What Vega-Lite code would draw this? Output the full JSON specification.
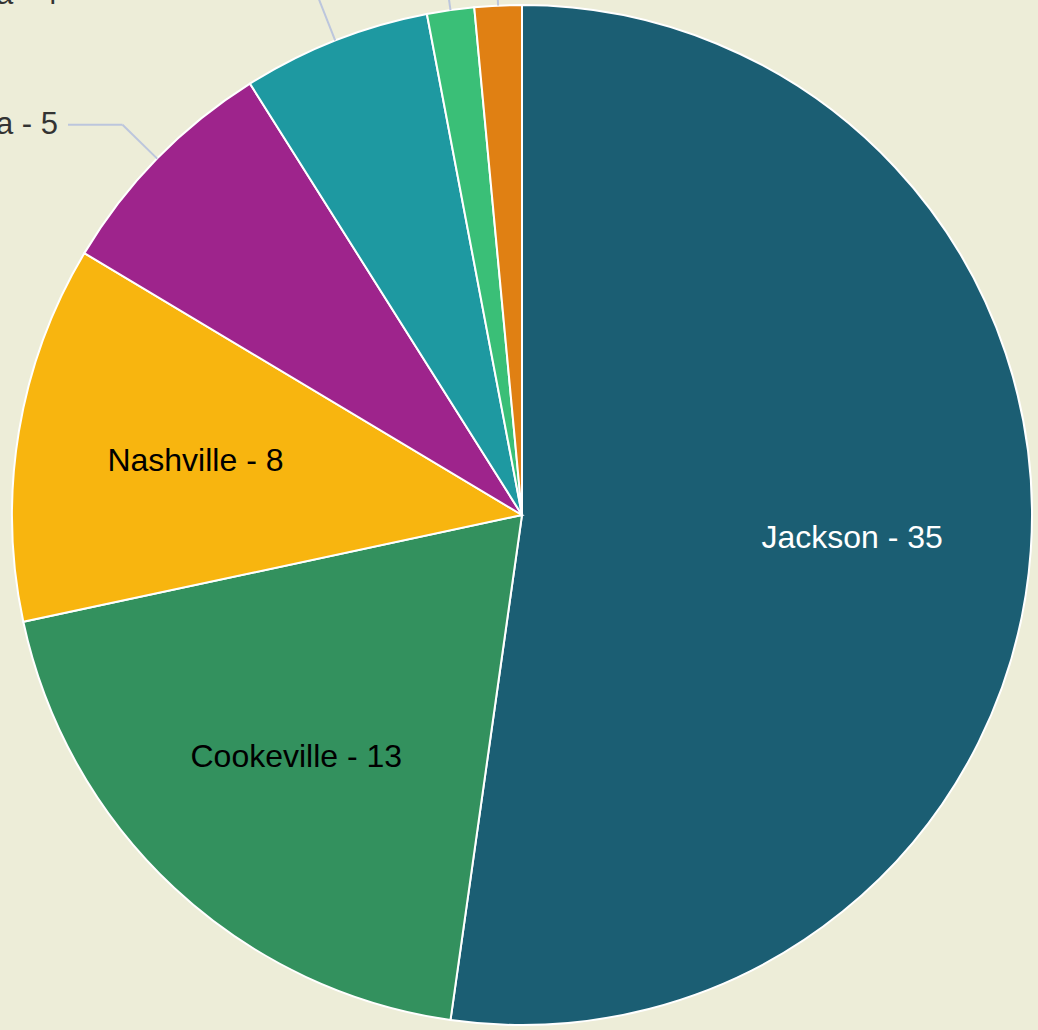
{
  "$schema": "https://vega.github.io/schema/vega-lite/v6.json",
  "width": 1032,
  "height": 1030,
  "autosize": {"type": "none"},
  "padding": {"left": 6, "top": 0, "right": 0, "bottom": 0},
  "background": "#EDEDD8",
  "config": {"view": {"stroke": null}},
  "data": {
    "values": [
      {"city": "Jackson", "count": 35},
      {"city": "Cookeville", "count": 13},
      {"city": "Nashville", "count": 8},
      {"city": "Chattanooga", "count": 5},
      {"city": "Columbia", "count": 4},
      {"city": "Memphis", "count": 1},
      {"city": "Knoxville", "count": 1}
    ]
  },
  "transform": [
    {"joinaggregate": [{"op": "sum", "field": "count", "as": "total"}]},
    {"stack": "count", "groupby": [], "sort": [{"field": "count", "order": "descending"}], "as": ["s0", "s1"]},
    {"calculate": "2*PI*datum.s0/datum.total", "as": "a0"},
    {"calculate": "2*PI*datum.s1/datum.total", "as": "a1"},
    {"calculate": "(datum.a0+datum.a1)/2", "as": "ang"},
    {"calculate": "sin(datum.ang)", "as": "ex"},
    {"calculate": "cos(datum.ang)", "as": "ey"},
    {"calculate": "1.095*sin(datum.ang)", "as": "bx"},
    {"calculate": "1.095*cos(datum.ang)", "as": "by"},
    {"calculate": "datum.city + ' - ' + datum.count", "as": "label"}
  ],
  "layer": [
    {
      "mark": {"type": "arc", "radius": 510, "stroke": "#FFFFFF", "strokeWidth": 2},
      "encoding": {
        "theta": {"field": "a0", "type": "quantitative", "scale": null},
        "theta2": {"field": "a1"},
        "color": {
          "field": "city",
          "type": "nominal",
          "legend": null,
          "scale": {
            "domain": ["Jackson", "Cookeville", "Nashville", "Chattanooga", "Columbia", "Memphis", "Knoxville"],
            "range": ["#1B5E73", "#33915E", "#F8B50F", "#9E248C", "#1E99A1", "#3ABF77", "#E08013"]
          }
        }
      }
    },
    {
      "transform": [{"filter": "datum.count < 8"}],
      "mark": {"type": "rule", "stroke": "#BCC6DD", "strokeWidth": 2},
      "encoding": {
        "x": {"field": "ex", "type": "quantitative", "axis": null, "scale": {"domain": [-1.01176, 1.01176], "nice": false, "zero": false}},
        "y": {"field": "ey", "type": "quantitative", "axis": null, "scale": {"domain": [-1.0098, 1.0098], "nice": false, "zero": false}},
        "x2": {"field": "bx"},
        "y2": {"field": "by"}
      }
    },
    {
      "transform": [{"filter": "datum.count < 8"}],
      "mark": {"type": "rule", "stroke": "#BCC6DD", "strokeWidth": 2},
      "encoding": {
        "x": {"field": "bx", "type": "quantitative"},
        "x2": {"datum": -0.8902},
        "y": {"field": "by", "type": "quantitative"}
      }
    },
    {
      "transform": [{"filter": "datum.count < 8"}],
      "mark": {"type": "text", "align": "right", "baseline": "middle", "font": "Liberation Sans", "fontSize": 31, "color": "#333333"},
      "encoding": {
        "x": {"datum": -0.9098},
        "y": {"field": "by", "type": "quantitative"},
        "text": {"field": "label"}
      }
    },
    {
      "transform": [{"filter": "datum.count >= 8"}],
      "mark": {"type": "text", "radius": 331, "align": "center", "baseline": "middle", "font": "Liberation Sans", "fontSize": 32},
      "encoding": {
        "theta": {"field": "ang", "type": "quantitative", "scale": null},
        "text": {"field": "label"},
        "color": {"condition": {"test": "datum.city === 'Jackson'", "value": "#FFFFFF"}, "value": "#000000"}
      }
    }
  ]
}
